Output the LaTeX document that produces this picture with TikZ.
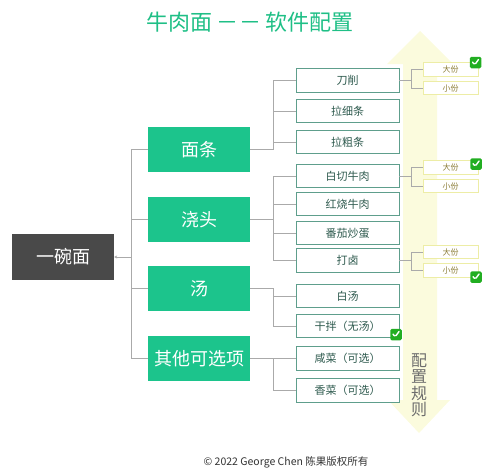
\documentclass[tikz,border=0pt]{standalone}
\usepackage{fontspec}
\setmainfont{Noto Sans CJK SC}
\usetikzlibrary{arrows.meta}
\definecolor{ttl}{HTML}{1FBF86}
\definecolor{gbox}{HTML}{1CC48C}
\definecolor{rootc}{HTML}{494949}
\definecolor{lc}{HTML}{AAAAAA}
\definecolor{bbord}{HTML}{5E9E8C}
\definecolor{btxt}{HTML}{2E5A4E}
\definecolor{sbord}{HTML}{EDEDA6}
\definecolor{stxt}{HTML}{8A7B34}
\definecolor{arr}{HTML}{FBFBDD}
\definecolor{chkg}{HTML}{22AE22}
\tikzset{
  rootbox/.style={fill=rootc, minimum width=102pt, minimum height=46pt, inner sep=0pt, text=white, font=\fontsize{18}{20}\selectfont},
  catbox/.style={fill=gbox, minimum width=102pt, minimum height=45pt, inner sep=0pt, text=white, font=\fontsize{18}{20}\selectfont},
  itembox/.style={draw=bbord, line width=0.9pt, fill=white, minimum width=103pt, minimum height=23.5pt, inner sep=0pt, text=btxt, font=\fontsize{11}{12}\selectfont},
  sizebox/.style={draw=sbord, line width=0.9pt, fill=white, minimum width=55pt, minimum height=13.5pt, inner sep=0pt, text=stxt, font=\fontsize{8}{9}\selectfont},
  conn/.style={draw=lc, line width=0.8pt},
  chk/.style={fill=chkg, rounded corners=1.5pt, minimum size=11.5pt, inner sep=0pt,
    path picture={\draw[white, line width=1.4pt, line cap=round, line join=round]
      ([shift={(-3pt,0.3pt)}]path picture bounding box.center) -- ++(2.3pt,-2.5pt) -- ++(3.7pt,5.2pt);}}
}
\begin{document}
\begin{tikzpicture}[x=1pt,y=-1pt]
\useasboundingbox (0,0) rectangle (500,475);
% big double arrow
\fill[arr] (420,31) -- (453,64) -- (437,64) -- (437,400) -- (450,400) -- (419,433) -- (388,400) -- (403,400) -- (403,64) -- (387,64) -- cycle;
\node[text=ttl, font=\fontsize{22}{24}\selectfont] (title) at (250,22) {牛肉面 －－ 软件配置};
\node[text=rootc!80, font=\fontsize{16}{16.5}\selectfont, align=center, inner sep=0pt] (rule) at (419,385) {配\\置\\规\\则};
% nodes
\node[rootbox] (root) at (63,257) {一碗面};
\node[catbox] (g1) at (199,149.5) {面条};
\node[catbox] (g2) at (199,219.5) {浇头};
\node[catbox] (g3) at (199,288.5) {汤};
\node[catbox] (g4) at (199,358.5) {其他可选项};
\node[itembox] (i1) at (347.5,80.5) {刀削};
\node[itembox] (i2) at (347.5,111) {拉细条};
\node[itembox] (i3) at (347.5,142) {拉粗条};
\node[itembox] (i4) at (347.5,176) {白切牛肉};
\node[itembox] (i5) at (347.5,204) {红烧牛肉};
\node[itembox] (i6) at (347.5,233) {番茄炒蛋};
\node[itembox] (i7) at (347.5,260.5) {打卤};
\node[itembox] (i8) at (347.5,296) {白汤};
\node[itembox] (i9) at (347.5,326) {干拌（无汤）};
\node[itembox] (i10) at (347.5,358.5) {咸菜（可选）};
\node[itembox] (i11) at (347.5,390.5) {香菜（可选）};
\node[sizebox] (s1a) at (450.5,69.5) {大份};
\node[sizebox] (s1b) at (450.5,88) {小份};
\node[sizebox] (s4a) at (450.5,167.5) {大份};
\node[sizebox] (s4b) at (450.5,186) {小份};
\node[sizebox] (s7a) at (450.5,252) {大份};
\node[sizebox] (s7b) at (450.5,270.5) {小份};
% connectors
\coordinate (t0) at (131,257);
\draw[conn, -{Stealth[length=3pt,width=3pt]}] (t0) -- (root.east);
\foreach \g in {g1,g2,g3,g4} \draw[conn] (t0) |- (\g.west);
\foreach \g/\i in {g1/i1,g1/i2,g1/i3,g2/i4,g2/i5,g2/i6,g2/i7,g3/i8,g3/i9,g4/i10,g4/i11}
  \draw[conn] (\g.east) -- ([xshift=23pt]\g.east) |- (\i.west);
\foreach \i/\s in {i1/s1a,i1/s1b,i4/s4a,i4/s4b,i7/s7a,i7/s7b}
  \draw[conn] (\i.east) -- ([xshift=12pt]\i.east) |- (\s.west);
% check marks
\node[chk] (c1) at (475.5,62.5) {};
\node[chk] (c2) at (476,164) {};
\node[chk] (c3) at (476,277) {};
\node[chk] (c4) at (396,334.5) {};
\node[text=black!80, font=\fontsize{10.5}{12}\selectfont] (foot) at (286,462) {© 2022 George Chen 陈果版权所有};
\end{tikzpicture}
\end{document}
